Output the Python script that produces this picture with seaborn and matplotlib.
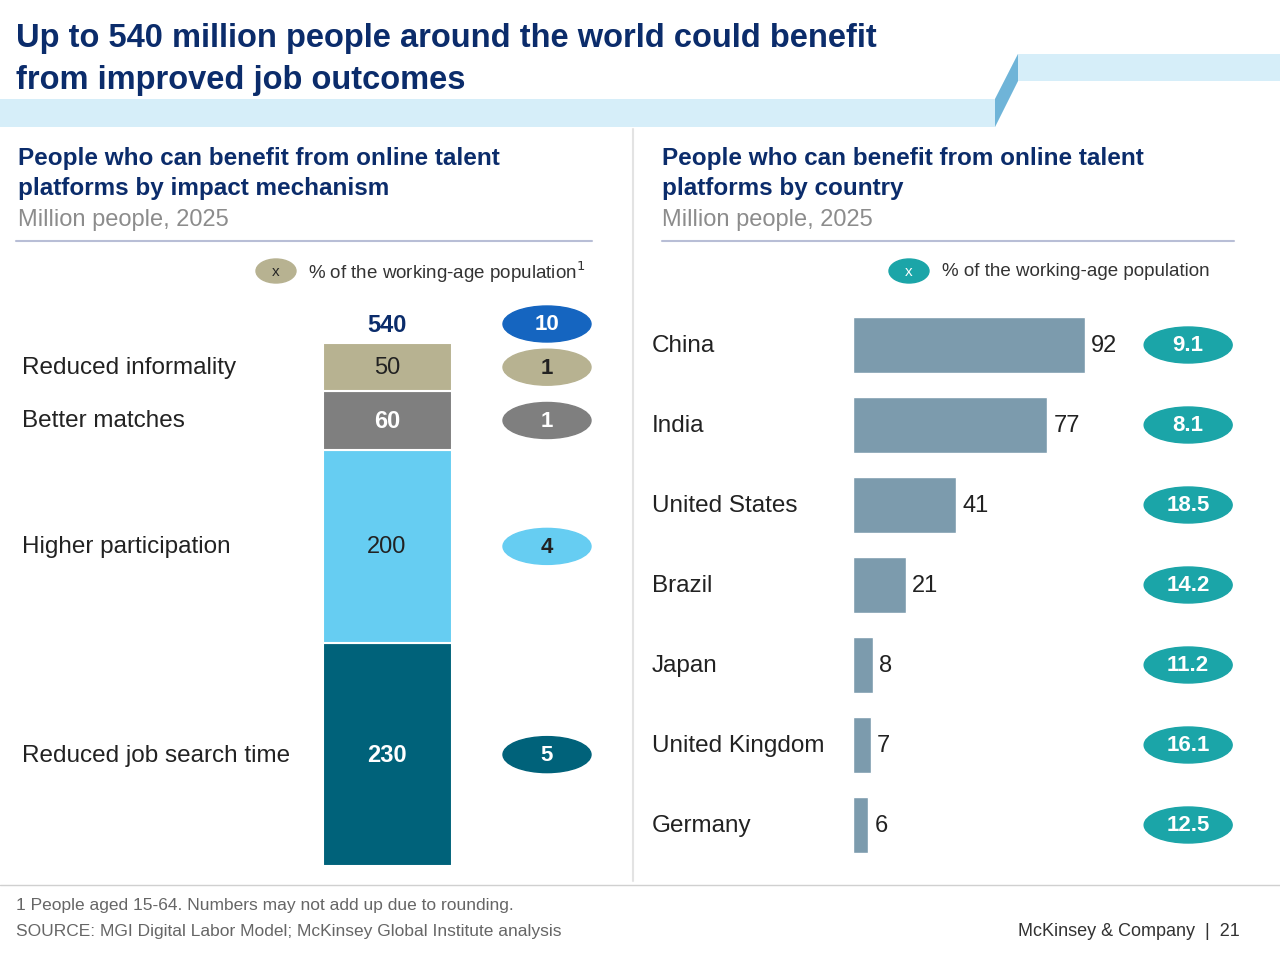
import seaborn as sns
import matplotlib.pyplot as plt
import pandas as pd
from matplotlib.patches import Ellipse, Polygon

# data
mech = ['Reduced job search time', 'Higher participation', 'Better matches', 'Reduced informality']
mech_vals = [230, 200, 60, 50]
mech_pct = ['5', '4', '1', '1']
mech_cols = ['#00627A', '#66CDF2', '#7F7F7F', '#B7B291']
mech_txt = ['white', '#222222', 'white', '#222222']
total = 540
total_pct = '10'

countries = ['China', 'India', 'United States', 'Brazil', 'Japan', 'United Kingdom', 'Germany']
country_vals = [92, 77, 41, 21, 8, 7, 6]
country_pct = ['9.1', '8.1', '18.5', '14.2', '11.2', '16.1', '12.5']

navy = '#0B2C6B'
W, H = 1280, 962
fig = plt.figure(figsize=(12.8, 9.62), dpi=100)
sns.set_style('white')
plt.rcParams['font.family'] = ['Liberation Sans', 'DejaVu Sans']

# overlay in pixel coords
ov = fig.add_axes([0, 0, 1, 1])
ov.set_xlim(0, W); ov.set_ylim(H, 0); ov.axis('off')
ov.add_patch(Polygon([(0, 100), (995, 100), (1018, 55), (1280, 55), (1280, 82), (1018, 82), (995, 128), (0, 128)],
                     color='#D6EEF9', lw=0))
ov.add_patch(Polygon([(995, 100), (1018, 55), (1018, 82), (995, 128)], color='#6FB4D8', lw=0))
ov.text(16, 38, 'Up to 540 million people around the world could benefit', fontsize=23.5, weight='bold', color=navy, va='center')
ov.text(16, 80, 'from improved job outcomes', fontsize=23.5, weight='bold', color=navy, va='center')
for x0, sub in [(18, 'impact mechanism'), (662, 'country')]:
    ov.text(x0, 159, 'People who can benefit from online talent', fontsize=17.5, weight='bold', color=navy, va='center')
    ov.text(x0, 189, 'platforms by ' + sub, fontsize=17.5, weight='bold', color=navy, va='center')
    ov.text(x0, 220, 'Million people, 2025', fontsize=17, color='#8C8C8C', va='center')
ov.plot([16, 592], [242, 242], color='#B8BED6', lw=1.5)
ov.plot([662, 1234], [242, 242], color='#B8BED6', lw=1.5)
ov.plot([633, 633], [130, 882], color='#E3E3E3', lw=1.5)
ov.plot([0, W], [886, 886], color='#D0D0D0', lw=1)
ov.add_patch(Ellipse((276, 272), 40, 24, color='#B7B291'))
ov.text(276, 272, 'x', ha='center', va='center', fontsize=11)
ov.text(308, 272, '% of the working-age population$^1$', fontsize=13.5, color='#333333', va='center')
ov.add_patch(Ellipse((909, 272), 40, 24, color='#1BA5A8'))
ov.text(909, 272, 'x', ha='center', va='center', fontsize=11, color='white')
ov.text(942, 272, '% of the working-age population', fontsize=13.5, color='#333333', va='center')
ov.text(16, 906, '1 People aged 15-64. Numbers may not add up due to rounding.', fontsize=12.5, color='#666666', va='center')
ov.text(16, 932, 'SOURCE: MGI Digital Labor Model; McKinsey Global Institute analysis', fontsize=12.5, color='#666666', va='center')
ov.text(1240, 932, 'McKinsey & Company  |  21', fontsize=13, color='#333333', va='center', ha='right')

# left stacked bar
bot_px, top_px = 867, 300
axl = fig.add_axes([0, (H - bot_px) / H, 0.5, (bot_px - top_px) / H])
axl.patch.set_alpha(0); axl.axis('off')
px_per_unit = 523 / total
axl.set_ylim(0, (bot_px - top_px) / px_per_unit)
axl.set_xlim(-387 / 129, 253 / 129)
bub_x = (547 - 387) / 129
ew, eh = 88 / 129, 36 / px_per_unit
bottom = 0
for name, v, p, c, tc in zip(mech, mech_vals, mech_pct, mech_cols, mech_txt):
    axl.bar(0, v, bottom=bottom, width=1, color=c, edgecolor='white', linewidth=1.5)
    mid = bottom + v / 2
    axl.text(0, mid, str(v), ha='center', va='center', fontsize=17, color=tc,
             weight='bold' if tc == 'white' else 'normal')
    axl.text(-365 / 129, mid, name, ha='left', va='center', fontsize=17.5, color='#222222')
    axl.add_patch(Ellipse((bub_x, mid), ew, eh, color=c))
    axl.text(bub_x, mid, p, ha='center', va='center', fontsize=16, weight='bold', color=tc)
    bottom += v
ytot = total + 19 / px_per_unit
axl.text(0, ytot, str(total), ha='center', va='center', fontsize=17, weight='bold', color=navy)
axl.add_patch(Ellipse((bub_x, ytot), ew, eh, color='#1565C0'))
axl.text(bub_x, ytot, total_pct, ha='center', va='center', fontsize=16, weight='bold', color='white')

# right horizontal bars
df = pd.DataFrame({'country': countries, 'value': country_vals})
axr = fig.add_axes([853 / W, (H - 866) / H, 387 / W, 560 / H])
axr.patch.set_alpha(0)
sns.barplot(data=df, x='value', y='country', color='#7C9BAD', saturation=1, width=0.69, ax=axr)
axr.set_xlim(0, 387 / 2.52); axr.set_ylim(6.5, -0.5); axr.axis('off')
for i, (c, v, p) in enumerate(zip(countries, country_vals, country_pct)):
    axr.text(v + 2.5, i, str(v), va='center', fontsize=17, color='#222222')
    axr.text(-(853 - 652) / 2.52, i, c, va='center', fontsize=17.5, color='#222222', clip_on=False)
    axr.add_patch(Ellipse((133, i), 88 / 2.52, 36 / 80, color='#1BA5A8', clip_on=False))
    axr.text(133, i, p, ha='center', va='center', fontsize=16, weight='bold', color='white')

fig.savefig('out.png', dpi=100)
